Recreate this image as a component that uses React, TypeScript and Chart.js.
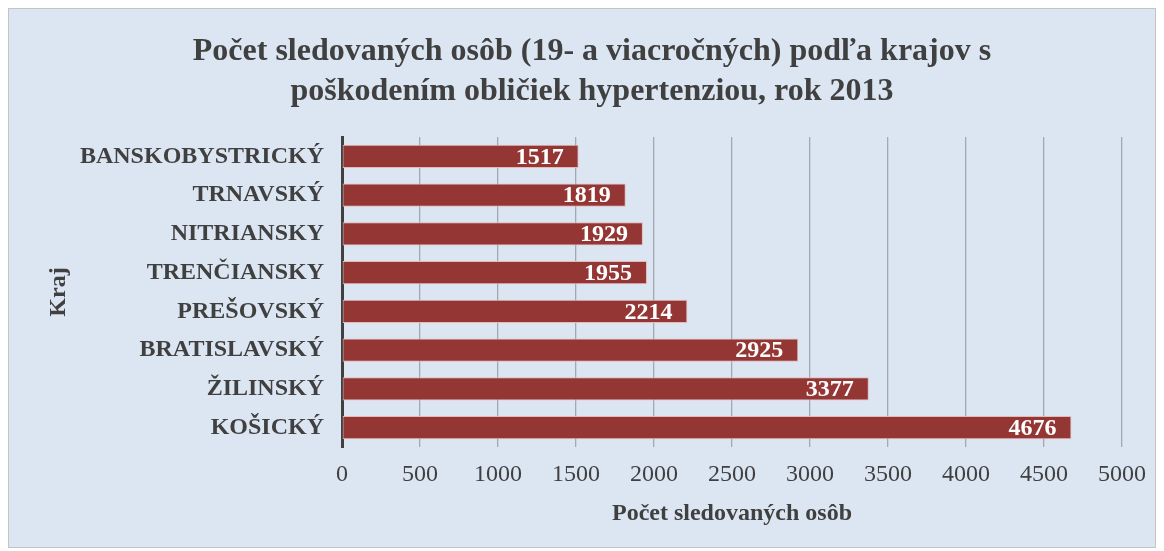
import React, { useEffect, useRef } from "react";
import { Chart, registerables } from "chart.js";

Chart.register(...registerables);

const categories = [
  "BANSKOBYSTRICKÝ",
  "TRNAVSKÝ",
  "NITRIANSKY",
  "TRENČIANSKY",
  "PREŠOVSKÝ",
  "BRATISLAVSKÝ",
  "ŽILINSKÝ",
  "KOŠICKÝ",
];
const values = [1517, 1819, 1929, 1955, 2214, 2925, 3377, 4676];
const titleLines = [
  "Počet sledovaných osôb (19- a viacročných) podľa krajov s",
  "poškodením obličiek hypertenziou, rok 2013",
];
const xTitle = "Počet sledovaných osôb";
const yTitle = "Kraj";

const FONT = "'Liberation Serif', 'Times New Roman', serif";

const barLabels = {
  id: "barLabels",
  afterDatasetsDraw(chart: any) {
    const ctx = chart.ctx;
    const meta = chart.getDatasetMeta(0);
    ctx.save();
    ctx.font = `bold 24px ${FONT}`;
    ctx.fillStyle = "#ffffff";
    ctx.textAlign = "right";
    ctx.textBaseline = "middle";
    meta.data.forEach((el: any, i: number) => {
      ctx.fillText(String(values[i]), el.x - 15, el.y + 1);
    });
    ctx.restore();
  },
};

export default function App() {
  const ref = useRef<HTMLCanvasElement>(null);
  useEffect(() => {
    if (!ref.current) return;
    const chart = new Chart(ref.current, {
      type: "bar",
      data: {
        labels: categories,
        datasets: [
          {
            data: values,
            backgroundColor: "#943634",
            borderColor: "#e6b9b8",
            borderWidth: 1,
            borderSkipped: false,
            barPercentage: 0.6,
            categoryPercentage: 1,
          },
        ],
      },
      options: {
        indexAxis: "y",
        animation: false,
        responsive: true,
        maintainAspectRatio: false,
        layout: { padding: { left: 53, right: 33, top: 0, bottom: 0 } },
        plugins: {
          legend: { display: false },
          tooltip: { enabled: false },
          title: {
            display: true,
            text: titleLines,
            color: "#404040",
            font: { family: FONT, size: 32, weight: "bold", lineHeight: 1.25 },
            padding: { top: 23, bottom: 25 },
          },
        },
        scales: {
          x: {
            min: 0,
            max: 5000,
            afterFit: (s: any) => {
              s.height = 100;
              s.paddingLeft = 0;
              s.paddingRight = 0;
            },
            ticks: {
              stepSize: 500,
              color: "#404040",
              font: { family: FONT, size: 24 },
              padding: 13,
              callback: (v: any) => String(v),
            },
            grid: { color: "#a2a9b1", lineWidth: 1.3, drawTicks: false },
            border: { display: false },
            title: {
              display: true,
              text: xTitle,
              color: "#404040",
              font: { family: FONT, size: 24, weight: "bold", lineHeight: 1.2 },
              padding: { top: 0, bottom: 19 },
            },
          },
          y: {
            afterFit: (s: any) => {
              s.width = 280;
            },
            ticks: {
              color: "#404040",
              font: { family: FONT, size: 24, weight: "bold" },
              padding: 18,
            },
            grid: { display: false, drawTicks: false },
            border: { display: true, color: "#404040", width: 3 },
            title: {
              display: true,
              text: yTitle,
              color: "#404040",
              font: { family: FONT, size: 24, weight: "bold", lineHeight: 1.2 },
              padding: { top: -18, bottom: 0 },
            },
          },
        },
      },
      plugins: [barLabels],
    });
    return () => chart.destroy();
  }, []);
  return (
    <div
      style={{
        width: 1148,
        height: 540,
        boxSizing: "border-box",
        border: "1px solid #c4c4c4",
        background: "#dce6f2",
        position: "relative",
      }}
    >
      <div style={{ position: "absolute", left: 0, top: 0, right: 0, bottom: 0 }}>
        <canvas ref={ref} />
      </div>
    </div>
  );
}
